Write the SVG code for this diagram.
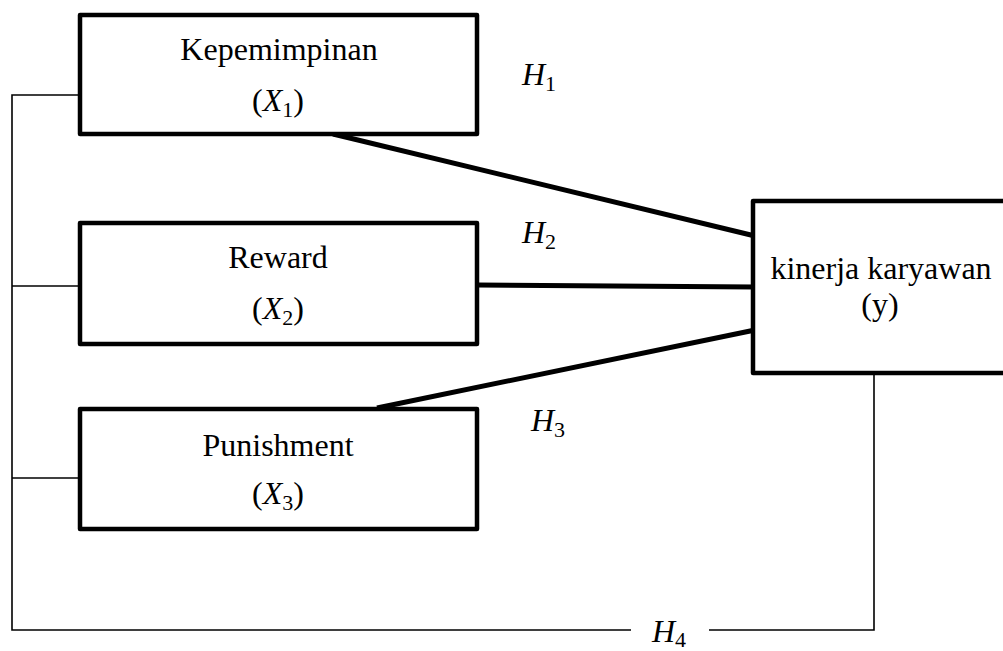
<svg xmlns="http://www.w3.org/2000/svg" width="1003" height="651" viewBox="0 0 1003 651">
<style>
.box{fill:#fff;stroke:#000;stroke-width:4.5;stroke-linejoin:round}
.lbl{font-family:"Liberation Serif",serif;font-size:32px;fill:#000;text-anchor:middle}
.mi{font-style:italic}
.sub{font-size:22px}
.thick{stroke:#000;stroke-width:5;fill:none}
.thin{stroke:#000;stroke-width:1.6;fill:none}
</style>
<rect width="1003" height="651" fill="#fff"/>
<g id="connectors">
<line class="thick" x1="333" y1="134" x2="755" y2="236"/>
<line class="thick" x1="478" y1="285" x2="755" y2="287"/>
<line class="thick" x1="377" y1="408" x2="755" y2="330"/>
<polyline class="thin" points="88,95 12,95 12,630 631,630"/>
<line class="thin" x1="12" y1="286" x2="88" y2="286"/>
<line class="thin" x1="12" y1="478" x2="88" y2="478"/>
<polyline class="thin" points="709,630 874,630 874,373"/>
</g>
<g id="labels" class="lbl">
<text x="522" y="85" text-anchor="start"><tspan class="mi">H</tspan><tspan class="sub" dy="6">1</tspan></text>
<text x="522" y="243" text-anchor="start"><tspan class="mi">H</tspan><tspan class="sub" dy="6">2</tspan></text>
<text x="531" y="431" text-anchor="start"><tspan class="mi">H</tspan><tspan class="sub" dy="6">3</tspan></text>
<text x="652" y="642" text-anchor="start"><tspan class="mi">H</tspan><tspan class="sub" dy="5">4</tspan></text>
</g>
<g id="node-x1">
<rect class="box" x="80" y="15" width="397" height="119"/>
<text class="lbl" x="279" y="60">Kepemimpinan</text>
<text class="lbl" x="278" y="111">(<tspan class="mi">X</tspan><tspan class="sub" dy="6">1</tspan><tspan dy="-6">)</tspan></text>
</g>
<g id="node-x2">
<rect class="box" x="80" y="223" width="397" height="121"/>
<text class="lbl" x="278" y="268">Reward</text>
<text class="lbl" x="278" y="319">(<tspan class="mi">X</tspan><tspan class="sub" dy="6">2</tspan><tspan dy="-6">)</tspan></text>
</g>
<g id="node-x3">
<rect class="box" x="80" y="409" width="397" height="120"/>
<text class="lbl" x="278" y="456">Punishment</text>
<text class="lbl" x="278" y="504">(<tspan class="mi">X</tspan><tspan class="sub" dy="6">3</tspan><tspan dy="-6">)</tspan></text>
</g>
<g id="node-y">
<rect class="box" x="753" y="201" width="262" height="172"/>
<text class="lbl" x="881" y="279">kinerja karyawan</text>
<text class="lbl" x="880" y="315">(y)</text>
</g>
</svg>
